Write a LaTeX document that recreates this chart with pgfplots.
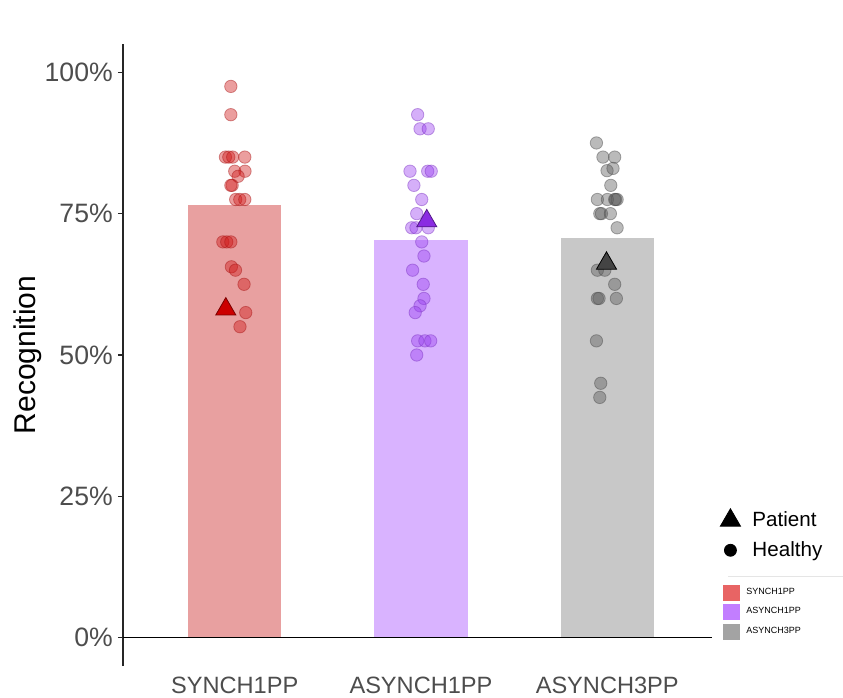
\documentclass[border=0pt]{standalone}
\usepackage{fontspec}
\setmainfont{Liberation Sans}
\usepackage{pgfplots}
\pgfplotsset{compat=1.18}
\definecolor{barA}{HTML}{E8A0A0}
\definecolor{barB}{HTML}{D9B3FF}
\definecolor{barC}{HTML}{C8C8C8}
\definecolor{ptA}{HTML}{D01818}
\definecolor{ptB}{HTML}{9A40F0}
\definecolor{ptC}{HTML}{5A5A5A}
\definecolor{triA}{HTML}{CC0000}
\definecolor{triB}{HTML}{8A2BE2}
\definecolor{triC}{HTML}{444444}
\definecolor{keyA}{HTML}{E86464}
\definecolor{keyB}{HTML}{C27EFF}
\definecolor{keyC}{HTML}{A3A3A3}
\definecolor{tickgray}{HTML}{4D4D4D}

\pgfplotstableread{
x y
0.979 97.5
0.979 92.5
0.950 85
0.968 85
0.989 85
1.054 85
1.000 82.5
1.055 82.5
1.018 81.6
0.986 80
0.979 80
1.005 77.5
1.027 77.5
1.054 77.5
0.936 70
0.957 70
0.979 70
0.982 65.6
1.004 65
1.050 62.5
1.059 57.5
1.028 55
}\healthyA

\pgfplotstableread{
x y
1.982 92.5
1.995 90
2.039 90
1.941 82.5
2.036 82.5
2.055 82.5
1.962 80
2.004 77.5
1.977 75
1.950 72.5
1.973 72.5
2.039 72.5
2.004 70
2.016 67.5
1.955 65
2.012 62.5
2.016 60
1.995 58.7
1.969 57.5
1.982 52.5
2.021 52.5
2.052 52.5
1.977 50
}\healthyB

\pgfplotstableread{
x y
2.942 87.5
2.977 85
3.040 85
2.999 82.6
3.031 83.0
3.019 80
2.947 77.5
3.001 77.5
3.040 77.5
3.045 77.5
3.053 77.5
2.960 75
2.969 75
3.017 75
3.053 72.5
2.947 65
2.987 65
3.040 62.5
2.947 60
2.956 60
3.049 60
2.942 52.5
2.965 45
2.960 42.5
}\healthyC

\begin{document}
\begin{tikzpicture}
\path[use as bounding box] (0,0) rectangle (421.5pt,349pt);
\begin{axis}[
  at={(61.5pt,16pt)}, anchor=south west,
  scale only axis, width=298pt, height=311pt,
  xmin=0.4, xmax=3.6, ymin=-5, ymax=105,
  axis lines*=left,
  x axis line style={draw=none},
  y axis line style={draw=black!85, line width=0.7pt},
  xtick={1,2,3},
  xticklabels={SYNCH1PP,ASYNCH1PP,ASYNCH3PP},
  x tick style={draw=none},
  xticklabel style={font=\fontsize{11.8}{14}\selectfont, text=tickgray, anchor=center, yshift=-7pt},
  ytick={0,25,50,75,100},
  yticklabels={0\%,25\%,50\%,75\%,100\%},
  tick align=outside,
  major tick length=2.6pt,
  y tick style={draw=black!85, line width=0.7pt},
  yticklabel style={font=\fontsize{13.3}{16}\selectfont, text=tickgray, xshift=1pt},
  ylabel={Recognition},
  ylabel style={font=\fontsize{15}{18}\selectfont, at={(axis description cs:-0.159,0.5)}, anchor=center},
  clip=false,
]
\addplot[ybar, bar width=0.5, bar shift=0pt, fill=barA, draw=none] coordinates {(1,76.6)};
\addplot[ybar, bar width=0.5, bar shift=0pt, fill=barB, draw=none] coordinates {(2,70.4)};
\addplot[ybar, bar width=0.5, bar shift=0pt, fill=barC, draw=none] coordinates {(3,70.7)};
\addplot[black, line width=0.7pt] coordinates {(0.4,0) (3.565,0)};
\addplot[only marks, mark=*, mark size=3.1pt, mark options={fill=ptA, fill opacity=0.42, draw=ptA!80!black, draw opacity=0.45, line width=0.4pt}] table {\healthyA};
\addplot[only marks, mark=*, mark size=3.1pt, mark options={fill=ptB, fill opacity=0.42, draw=ptB!80!black, draw opacity=0.45, line width=0.4pt}] table {\healthyB};
\addplot[only marks, mark=*, mark size=3.1pt, mark options={fill=ptC, fill opacity=0.42, draw=ptC!80!black, draw opacity=0.45, line width=0.4pt}] table {\healthyC};
\addplot[only marks, mark=triangle*, mark size=5.8pt, mark options={fill=triA, draw=triA!60!black, line width=0.4pt}] coordinates {(0.952,58.1)};
\addplot[only marks, mark=triangle*, mark size=5.8pt, mark options={fill=triB, draw=triB!60!black, line width=0.4pt}] coordinates {(2.031,73.7)};
\addplot[only marks, mark=triangle*, mark size=5.8pt, mark options={fill=triC, draw=black, line width=0.4pt}] coordinates {(2.996,66.2)};
\end{axis}
% legend axis: shape legend
\begin{axis}[
  at={(0pt,0pt)}, anchor=south west,
  scale only axis, width=421.5pt, height=349pt,
  xmin=0, xmax=1, ymin=0, ymax=1, hide axis,
  legend style={at={(720/843,1-507/698)}, anchor=north west, draw=none, fill=none,
    inner sep=0pt, font=\fontsize{10.3}{12}\selectfont, row sep=2pt,
    /tikz/every odd column/.style={column sep=4pt}},
  legend cell align=left,
]
\addlegendimage{only marks, mark=triangle*, mark size=5.8pt, black}
\addlegendentry{Patient}
\addlegendimage{only marks, mark=*, mark size=3pt, black}
\addlegendentry{Healthy}
\end{axis}
% legend axis: colour keys
\begin{axis}[
  at={(0pt,0pt)}, anchor=south west,
  scale only axis, width=421.5pt, height=349pt,
  xmin=0, xmax=1, ymin=0, ymax=1, hide axis,
  legend style={at={(723/843,1-584/698)}, anchor=north west, draw=none, fill=none,
    inner sep=0pt, font=\fontsize{4.5}{5}\selectfont, row sep=1pt,
    /tikz/every odd column/.style={column sep=1pt}},
  legend cell align=left,
  legend image code/.code={\fill[#1] (0pt,-4pt) rectangle (8.5pt,4pt);},
]
\addlegendimage{fill=keyA, draw=none}
\addlegendentry{SYNCH1PP}
\addlegendimage{fill=keyB, draw=none}
\addlegendentry{ASYNCH1PP}
\addlegendimage{fill=keyC, draw=none}
\addlegendentry{ASYNCH3PP}
\end{axis}
\draw[black!10, line width=0.4pt] (364pt,61pt) -- (421.5pt,61pt);
\end{tikzpicture}
\end{document}
